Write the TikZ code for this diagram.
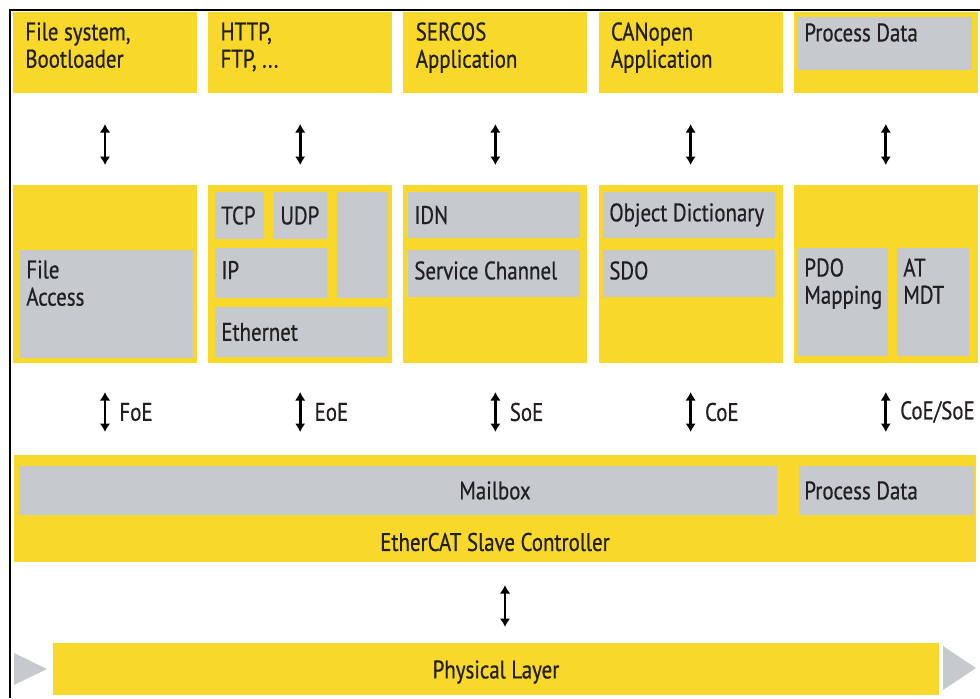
\documentclass[tikz,border=0pt]{standalone}
\usepackage{fontspec}
\setmainfont{PT Sans}[FakeStretch=0.82,FakeBold=0.6]
\usetikzlibrary{arrows.meta,positioning,fit,calc}
\definecolor{ecyellow}{RGB}{248,216,42}
\definecolor{ecgray}{RGB}{198,202,207}
\definecolor{ectext}{RGB}{35,31,32}
\begin{document}
\begin{tikzpicture}[x=0.2mm,y=-0.2mm,
 ylw/.style={fill=ecyellow,inner sep=0pt,outer sep=0pt},
 gry/.style={fill=ecgray,inner sep=0pt,outer sep=0pt},
 txt/.style={inner sep=0pt,align=left,text=ectext,font=\fontsize{14.5}{15.5}\selectfont},
 tl/.style={txt,anchor=north west},
 cl/.style={txt,anchor=west},
 dbl/.style={line width=1.6pt,{Latex[length=1.7mm,width=2.1mm]}-{Latex[length=1.7mm,width=2.1mm]}}]
 \useasboundingbox (0,0) rectangle (980,698);
 \draw[line width=0.4mm] (10,698) -- (10,10) -- (980,10);
 % application layer and protocol stacks
 \foreach \i in {1,...,5}
 {\pgfmathsetmacro\xa{13+195.2*(\i-1)}
 \node[ylw,fit={(\xa,12) (\xa+184,93)}] (app\i) {};
 \node[ylw,fit={(\xa,185) (\xa+184,363)}] (mid\i) {};
 \draw[dbl,shorten <=6.2mm,shorten >=4mm] (app\i.south) -- (mid\i.north);}
 \node[tl] (app1-t) at ([shift={(12,10)}]app1.north west) {File system,\\Bootloader};
 \node[tl] (app2-t) at ([shift={(12,10)}]app2.north west) {HTTP,\\FTP, ...};
 \node[tl] (app3-t) at ([shift={(12,10)}]app3.north west) {SERCOS\\Application};
 \node[tl] (app4-t) at ([shift={(12,10)}]app4.north west) {CANopen\\Application};
 \node[gry,fit={(798,17) (972,70)}] (pd1) {};
 \node[tl] (pd1-t) at ([shift={(6,6)}]pd1.north west) {Process Data};
 % col 1
 \node[gry,fit={(20,250) (193,358)}] (fa) {};
 \node[tl] (fa-t) at ([shift={(6,10)}]fa.north west) {File\\Access};
 % col 2
 \node[gry,fit={(215,192) (264,239)}] (tcp) {};
 \node[gry,fit={(274,192) (327,239)}] (udp) {};
 \node[gry,fit={(337,192) (388,298)}] (oth) {};
 \node[gry,fit={(215,248) (327,298)}] (ip) {};
 \node[gry,fit={(215,307) (388,357)}] (eth) {};
 \node[cl] (tcp-t) at ([xshift=1.2mm]tcp.west) {TCP};
 \node[cl] (udp-t) at ([xshift=1.2mm]udp.west) {UDP};
 \node[cl] (ip-t) at ([shift={(6,-3)}]ip.west) {IP};
 \node[cl] (eth-t) at ([xshift=1.2mm]eth.west) {Ethernet};
 % col 3
 \node[gry,fit={(408,192) (580,238)}] (idn) {};
 \node[gry,fit={(408,250) (580,297)}] (sch) {};
 \node[cl] (idn-t) at ([xshift=1.2mm]idn.west) {IDN};
 \node[cl] (sch-t) at ([shift={(6,-3)}]sch.west) {Service Channel};
 % col 4
 \node[gry,fit={(603,192) (775,238)}] (od) {};
 \node[gry,fit={(603,250) (775,297)}] (sdo) {};
 \node[cl] (od-t) at ([xshift=1.2mm]od.west) {Object Dictionary};
 \node[cl] (sdo-t) at ([shift={(6,-3)}]sdo.west) {SDO};
 % col 5
 \node[gry,fit={(798,248) (888,356)}] (pdo) {};
 \node[gry,fit={(897,248) (969,356)}] (atm) {};
 \node[tl] (pdo-t) at ([shift={(6,10)}]pdo.north west) {PDO\\Mapping};
 \node[tl] (atm-t) at ([shift={(6,10)}]atm.north west) {AT\\MDT};
 % slave controller
 \node[ylw,fit={(14,455) (976,562)}] (esc) {};
 \node[gry,fit={(19,466) (777,515)}] (mbx) {};
 \node[gry,fit={(799,466) (974,515)}] (pd2) {};
 \node[txt] (mbx-t) at (esc.center |- mbx.center) {Mailbox};
 \node[cl] (pd2-t) at ([xshift=1mm]pd2.west) {Process Data};
 \node[txt] (esc-t) at ($(esc.south)+(0,-20)$) {EtherCAT Slave Controller};
 \foreach \i/\lab in {1/FoE,2/EoE,3/SoE,4/CoE,5/{CoE/SoE}}
 {\draw[dbl,shorten <=5.8mm,shorten >=4.6mm] (mid\i.south) -- (mid\i.south |- esc.north)
 node[midway,cl,xshift=2.6mm,yshift=-0.6mm] (prot\i) {\lab};}
 % physical layer
 \node[ylw,fit={(53,643) (939,695)}] (phy) {};
 \node[txt] (phy-t) at ([yshift=-0.6mm]phy.center) {Physical Layer};
 \fill[ecgray] (14,653) -- (47,669) -- (14,685) -- cycle;
 \fill[ecgray] (943,646) -- (976,668) -- (943,690) -- cycle;
 \draw[dbl,shorten <=4.6mm,shorten >=3.2mm] ([xshift=2mm]esc.south) -- ([xshift=2mm]esc.south |- phy.north);
\end{tikzpicture}
\end{document}
